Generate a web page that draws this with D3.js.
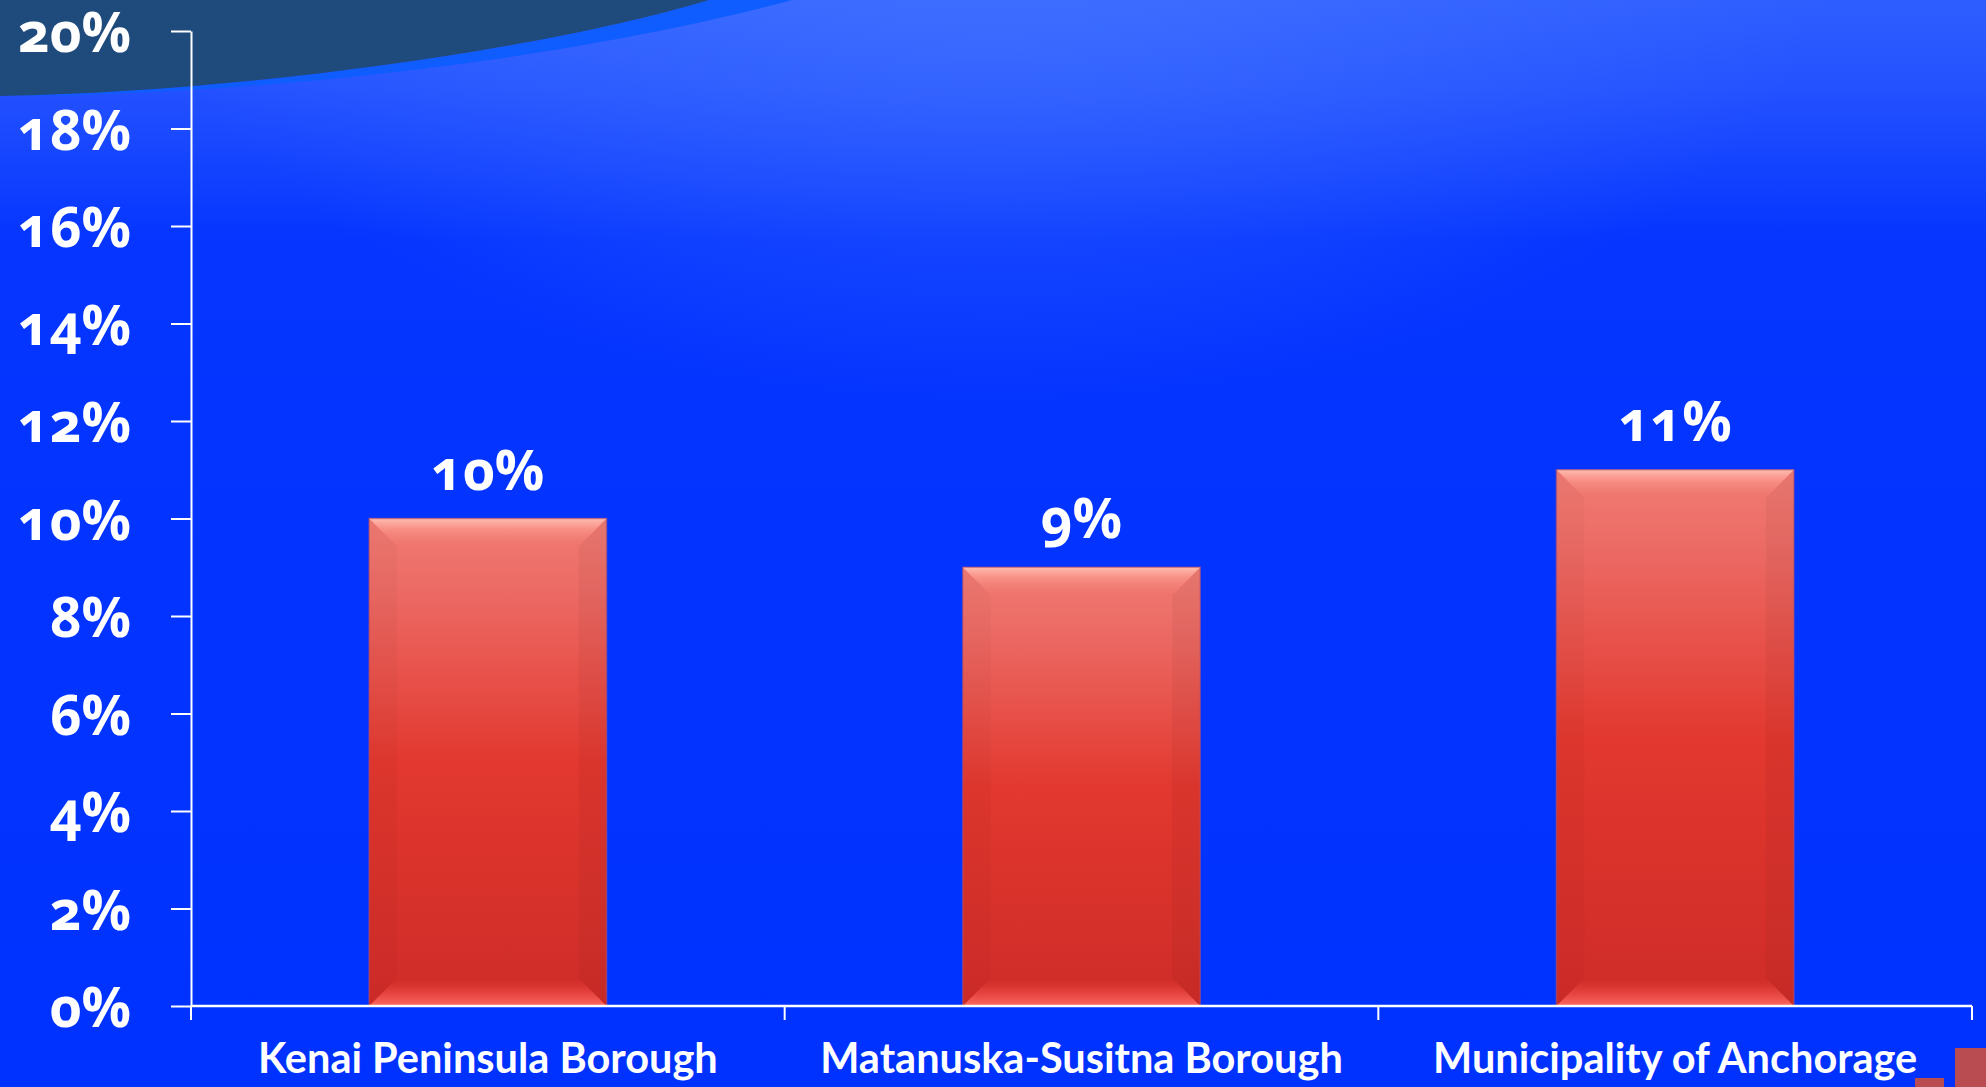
<!DOCTYPE html>
<html><head><meta charset="utf-8">
<script src="https://cdn.jsdelivr.net/npm/d3@7"></script>
<style>
html,body{margin:0;padding:0;background:#0033ff;overflow:hidden}
svg{display:block}
</style></head>
<body>
<svg id="chart" width="1986" height="1087"></svg>
<script>
const categories = ["Kenai Peninsula Borough", "Matanuska-Susitna Borough", "Municipality of Anchorage"];
const values = [10, 9, 11];
const valueLabels = ["10%", "9%", "11%"];
const yTicks = [0, 2, 4, 6, 8, 10, 12, 14, 16, 18, 20];

const W = 1986, H = 1087;
const margin = {left: 191, right: 14, top: 31, bottom: 81};
const svg = d3.select("#chart");
const defs = svg.append("defs");

// background
const bg = defs.append("linearGradient").attr("id","bg").attr("x1",0).attr("y1",0).attr("x2",0).attr("y2",1);
bg.append("stop").attr("offset","0%").attr("stop-color","#2f5eff");
bg.append("stop").attr("offset","8%").attr("stop-color","#2452ff");
bg.append("stop").attr("offset","22%").attr("stop-color","#0535ff");
bg.append("stop").attr("offset","100%").attr("stop-color","#0032ff");
svg.append("rect").attr("width",W).attr("height",H).attr("fill","url(#bg)");
const rg = defs.append("radialGradient").attr("id","glow").attr("cx","0.5").attr("cy","-0.05").attr("r","0.42");
rg.append("stop").attr("offset","0%").attr("stop-color","#4a7cff").attr("stop-opacity",0.6);
rg.append("stop").attr("offset","100%").attr("stop-color","#4a7cff").attr("stop-opacity",0);
svg.append("rect").attr("width",W).attr("height",H).attr("fill","url(#glow)");

// top-left swoosh decoration
svg.append("path").attr("d","M0,96 C300,95 600,52 792,0 L709,0 C550,48 250,92 0,96 Z").attr("fill","#0f5cff");
svg.append("path").attr("d","M0,0 L709,0 C550,48 250,92 0,96 Z").attr("fill","#1f4a7c");

// bottom-right logo fragments
svg.append("rect").attr("x",1955).attr("y",1048).attr("width",31).attr("height",39).attr("fill","#b84c50");
svg.append("rect").attr("x",1915).attr("y",1078).attr("width",29).attr("height",9).attr("fill","#b84c50");

const x = d3.scaleBand().domain(categories).range([margin.left, W - margin.right]).padding(0);
const y = d3.scaleLinear().domain([0, 20]).range([H - margin.bottom, margin.top]);

// gradients for bars
function lin(id, stops, x2, y2){
  const g = defs.append("linearGradient").attr("id",id).attr("x1",0).attr("y1",0).attr("x2",x2).attr("y2",y2);
  stops.forEach(s=>g.append("stop").attr("offset",s[0]).attr("stop-color",s[1]).attr("stop-opacity", s[2] === undefined ? 1 : s[2]));
}
lin("barBody", [["0%","#f07c74"],["15%","#ec6a64"],["50%","#e2382f"],["100%","#cf2c28"]], 0, 1);
lin("bevTop", [["0%","#ffc0b4",0.95],["45%","#ff9d92",0.5],["100%","#f2857a",0]], 0, 1);
lin("bevBot", [["0%","#d3302c",0],["40%","#e84540",0.6],["100%","#ff6a62",1]], 0, 1);

const barW = x.bandwidth() * 0.4;
const bev = 28;
const bars = svg.append("g").selectAll("g").data(categories).join("g");
bars.each(function(c, i){
  const g = d3.select(this);
  const x0 = x(c) + (x.bandwidth() - barW) / 2, x1 = x0 + barW;
  const y0 = y(values[i]), y1 = y(0);
  g.append("rect").attr("x",x0).attr("y",y0).attr("width",barW).attr("height",y1-y0).attr("fill","url(#barBody)");
  // side bevels (subtle)
  g.append("path").attr("d",`M${x0},${y0} L${x0+bev},${y0+bev} L${x0+bev},${y1-bev} L${x0},${y1} Z`).attr("fill","#000").attr("opacity",0.025);
  g.append("path").attr("d",`M${x1},${y0} L${x1-bev},${y0+bev} L${x1-bev},${y1-bev} L${x1},${y1} Z`).attr("fill","#000").attr("opacity",0.04);
  // top bevel highlight
  g.append("path").attr("d",`M${x0},${y0} L${x1},${y0} L${x1-bev},${y0+bev} L${x0+bev},${y0+bev} Z`).attr("fill","url(#bevTop)");
  // bottom bevel
  g.append("path").attr("d",`M${x0},${y1} L${x1},${y1} L${x1-bev},${y1-bev} L${x0+bev},${y1-bev} Z`).attr("fill","url(#bevBot)");
  g.append("rect").attr("x",x0).attr("y",y0).attr("width",barW).attr("height",y1-y0).attr("fill","none").attr("stroke","#b8506a").attr("stroke-opacity",0.55).attr("stroke-width",1.5);
  // value label
  g.append("text").attr("x", x0 + barW/2).attr("y", y0 - 29).attr("text-anchor","middle")
   .attr("class","num").text(valueLabels[i]);
});

// y axis
const yAxis = d3.axisLeft(y).tickValues(yTicks).tickFormat(d => d + "%").tickSize(20).tickSizeOuter(0).tickPadding(40);
const gy = svg.append("g").attr("transform",`translate(${margin.left},0)`).call(yAxis);
gy.select(".domain").attr("stroke","#fff").attr("stroke-width",2);
gy.selectAll(".tick line").attr("stroke","#fff").attr("stroke-width",2);
gy.selectAll(".tick text").attr("class","num").attr("dy","0.38em");

// x axis
const boundaries = categories.map(c => x(c)).concat([x.range()[1]]);
const gx = svg.append("g").attr("transform",`translate(0,${y(0)})`);
gx.append("line").attr("x1",x.range()[0]).attr("x2",x.range()[1]).attr("stroke","#fff").attr("stroke-width",2.5);
gx.selectAll("line.tk").data(boundaries).join("line").attr("class","tk")
  .attr("x1",d=>d).attr("x2",d=>d).attr("y1",0).attr("y2",14).attr("stroke","#fff").attr("stroke-width",2);
gx.selectAll("text").data(categories).join("text")
  .attr("x", d => x(d) + x.bandwidth()/2).attr("y", 67).attr("text-anchor","middle")
  .attr("fill","#fff").attr("font-family","Lato, 'Open Sans', sans-serif").attr("font-weight",700).attr("font-size",41.5)
  .text(d => d);

svg.selectAll("text.num").attr("fill","#fff").attr("font-family","'Open Sans', sans-serif")
  .attr("font-weight",700).attr("font-size",55).style("font-variant-numeric","oldstyle-nums");
</script>
</body></html>
